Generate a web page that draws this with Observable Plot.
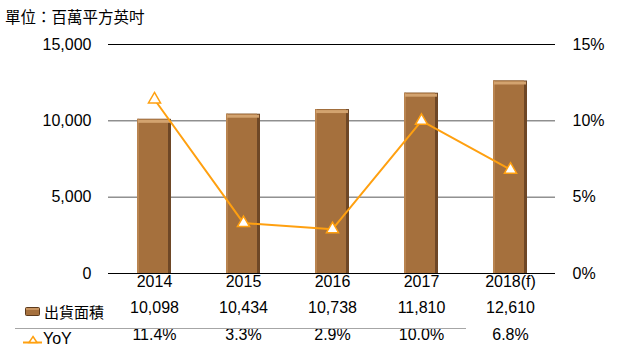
<!DOCTYPE html>
<html>
<head>
<meta charset="utf-8">
<script src="https://cdn.jsdelivr.net/npm/d3@7"></script>
<script src="https://cdn.jsdelivr.net/npm/@observablehq/plot@0.6"></script>
<style>
  body { margin: 0; background: #fff; font-family: "Noto Sans CJK TC", "Noto Sans", sans-serif; }
  #wrap { position: relative; width: 624px; height: 359px; }
  #title { position: absolute; left: 5px; top: 6px; font-size: 15.5px; line-height: 20px; color: #000; font-family: "Noto Sans CJK TC", sans-serif; }
  .lbl { position: absolute; font-size: 15px; color: #000; line-height: 18px; }
  #sep { position: absolute; left: 15px; top: 328px; width: 451px; height: 0; border-top: 1px solid #a6a6a6; }
</style>
</head>
<body>
<div id="wrap">
  <div id="chart"></div>
  <div id="title">單位：百萬平方英吋</div>
  <div id="sep"></div>
  <svg style="position:absolute;left:24px;top:306px" width="18" height="12">
    <rect x="1.5" y="1.5" width="14" height="8" rx="1" fill="#a5703d" stroke="#5c3a1c" stroke-width="1"/>
    <rect x="2" y="2" width="13" height="2" fill="#c99561"/>
  </svg>
  <div class="lbl" style="left:44px;top:303px">出貨面積</div>
  <svg style="position:absolute;left:20px;top:332px" width="24" height="14">
    <line x1="3" y1="10.5" x2="22" y2="10.5" stroke="#ffa010" stroke-width="2"/>
    <path d="M13 4.5 L17 10.5 L9 10.5 Z" fill="#fff" stroke="#ffa010" stroke-width="1.5"/>
  </svg>
  <div class="lbl" style="left:43px;top:330px;font-family:'Liberation Sans',sans-serif;font-size:16px">YoY</div>
</div>
<script>
const years = ["2014", "2015", "2016", "2017", "2018(f)"];
const shipments = [10098, 10434, 10738, 11810, 12610];
const yoy = [11.4, 3.3, 2.9, 10.0, 6.8];
const leftTicks = [0, 5000, 10000, 15000];
const rightTicks = [0, 5, 10, 15];

const yMax = 15000, pctMax = 15;
const data = years.map((y, i) => ({year: y, value: shipments[i], yoy: yoy[i], yoyScaled: yoy[i] / pctMax * yMax}));

const font = "'Liberation Sans', 'Noto Sans', sans-serif";
const chart = Plot.plot({
  width: 624,
  height: 359,
  marginTop: 44,
  marginBottom: 86,
  marginLeft: 108,
  marginRight: 69,
  style: {fontFamily: font, fontSize: "16px", color: "#000", background: "transparent"},
  x: {domain: years, paddingInner: 0.62, paddingOuter: 0.31, axis: null},
  y: {domain: [0, yMax], axis: null},
  marks: [
    Plot.ruleY(leftTicks.filter(d => d > 0 && d < yMax), {stroke: "#595959", strokeWidth: 1}),
    Plot.ruleY([yMax], {stroke: "#000", strokeWidth: 1}),
    Plot.barY(data, {x: "year", y: "value", fill: "#6e4726"}),
    Plot.barY(data, {x: "year", y: "value", fill: "#a5703d", insetRight: 3, insetLeft: 1}),
    Plot.barY(data, {x: "year", y: "value", fill: "#b98450", insetRight: 32, insetLeft: 0}),
    Plot.tickY(data, {x: "year", y: "value", stroke: "#d3a36f", strokeWidth: 3, dy: 2, inset: 1}),
    Plot.ruleY([0], {stroke: "#000", strokeWidth: 1}),
    Plot.line(data, {x: "year", y: "yoyScaled", stroke: "#ffa010", strokeWidth: 2}),
    Plot.dot(data, {x: "year", y: "yoyScaled", symbol: "triangle", r: 4.5, fill: "#fff", stroke: "#ffa010", strokeWidth: 1.5}),
    Plot.axisY(leftTicks, {anchor: "left", tickSize: 0, tickPadding: 17, tickFormat: d => d3.format(",")(d), fontSize: 16}),
    Plot.axisY(rightTicks.map(d => d / pctMax * yMax), {anchor: "right", tickSize: 0, tickPadding: 17, tickFormat: d => Math.round(d / yMax * pctMax) + "%", fontSize: 16}),
    Plot.text(data, {x: "year", text: "year", frameAnchor: "bottom", dy: 13, fontSize: 16}),
    Plot.text(data, {x: "year", text: d => d3.format(",")(d.value), frameAnchor: "bottom", dy: 39.5, fontSize: 16}),
    Plot.text(data, {x: "year", text: d => d.yoy.toFixed(1) + "%", frameAnchor: "bottom", dy: 66, fontSize: 16})
  ]
});
document.getElementById("chart").appendChild(chart);
</script>
</body>
</html>
